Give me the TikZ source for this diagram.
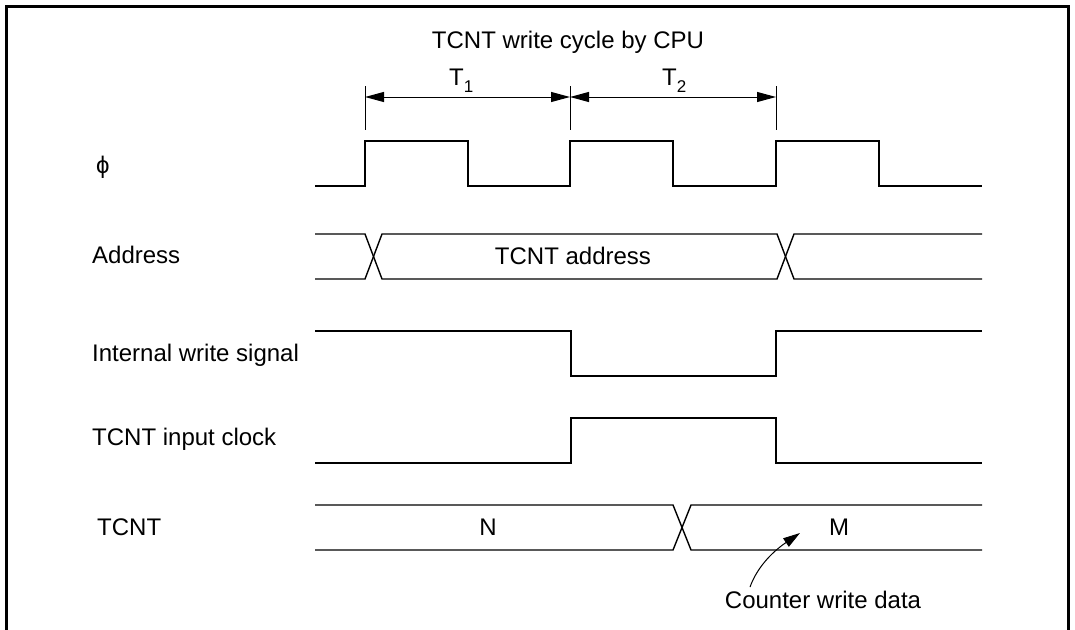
\documentclass[tikz,border=0pt]{standalone}
\usepackage{fontspec}
\setmainfont{Liberation Sans}
\usetikzlibrary{arrows.meta}
\begin{document}
\begin{tikzpicture}[x=1pt,y=-1pt,
  sig/.style={line width=1.4pt,line join=miter},
  frame/.style={line width=3pt},
  lbl/.style={anchor=base west,inner sep=0pt,font=\fontsize{24}{27}\selectfont},
  ctr/.style={anchor=base,inner sep=0pt,font=\fontsize{24}{27}\selectfont},
  dim/.style={line width=1pt},
  dimarrow/.style={line width=1pt,{Triangle[length=19pt,width=10pt]}-{Triangle[length=19pt,width=10pt]}},
  callout/.style={line width=1pt,-{Triangle[length=17pt,width=10pt]}}]
\useasboundingbox (0,0) rectangle (1075,629);
\draw[frame] (6,640) -- (6,6) -- (1068,6) -- (1068,640);
% title and dimension
\node[ctr] (title) at (568,48) {TCNT write cycle by CPU};
\coordinate (v1t) at (365,86); \coordinate (v1b) at (365,130);
\coordinate (v2t) at (570,86); \coordinate (v2b) at (570,130);
\coordinate (v3t) at (776,86); \coordinate (v3b) at (776,130);
\draw[dim] (v1t) -- (v1b);
\draw[dim] (v2t) -- (v2b);
\draw[dim] (v3t) -- (v3b);
\coordinate (a1) at (365,97); \coordinate (a2) at (570,97); \coordinate (a3) at (776,97);
\draw[dimarrow] (a1) -- (a2);
\draw[dimarrow] (a2) -- (a3);
\node[lbl] (t1) at (449,85) {T\raisebox{-0.3em}{\fontsize{17}{19}\selectfont 1}};
\node[lbl] (t2) at (662,85) {T\raisebox{-0.3em}{\fontsize{17}{19}\selectfont 2}};
% labels
\node[lbl] (lphi) at (96,173) {ϕ};
\node[lbl] (laddr) at (92,263) {Address};
\node[lbl] (lwr) at (92,361) {Internal write signal};
\node[lbl] (lclk) at (92,445) {TCNT input clock};
\node[lbl] (ltcnt) at (97,535) {TCNT};
% phi
\draw[sig] (315,186) -- (365,186) -- (365,141) -- (468,141) -- (468,186) -- (570,186) -- (570,141)
  -- (673,141) -- (673,186) -- (776,186) -- (776,141) -- (879,141) -- (879,186) -- (982,186);
% address bus
\draw[sig] (315,234) -- (365,234) -- (382,279) -- (777,279) -- (794,234) -- (982,234);
\draw[sig] (315,279) -- (365,279) -- (382,234) -- (777,234) -- (794,279) -- (982,279);
\node[ctr] (addr) at (573,264) {TCNT address};
% internal write signal
\draw[sig] (315,331) -- (571,331) -- (571,376) -- (776,376) -- (776,331) -- (982,331);
% TCNT input clock
\draw[sig] (315,463) -- (571,463) -- (571,418) -- (776,418) -- (776,463) -- (982,463);
% TCNT
\draw[sig] (315,505) -- (673,505) -- (691,550) -- (982,550);
\draw[sig] (315,550) -- (673,550) -- (691,505) -- (982,505);
\node[ctr] (n) at (488,535) {N};
\node[ctr] (m) at (839,535) {M};
% callout
\node[ctr] (cwd) at (823,608) {Counter write data};
\coordinate (ctail) at (750,587);
\coordinate (chead) at (800,533);
\draw[callout] (ctail) .. controls (758,565) and (775,550) .. (chead);
\end{tikzpicture}
\end{document}
